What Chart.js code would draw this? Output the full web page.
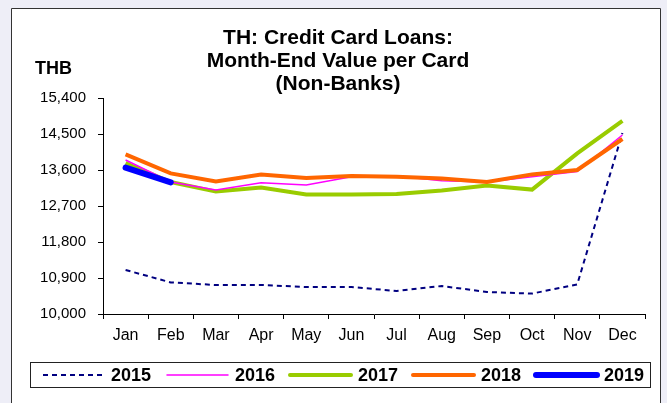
<!DOCTYPE html>
<html>
<head>
<meta charset="utf-8">
<script src="https://cdn.jsdelivr.net/npm/chart.js@4/dist/chart.umd.min.js"></script>
<style>
  html, body { margin: 0; padding: 0; background: #eeeef7; }
  #wrap { width: 667px; height: 403px; position: relative; }
</style>
</head>
<body>
<div id="wrap"><canvas id="chart" width="667" height="403"></canvas></div>
<script>
const months = ["Jan", "Feb", "Mar", "Apr", "May", "Jun", "Jul", "Aug", "Sep", "Oct", "Nov", "Dec"];
const y2015 = [11100, 10790, 10725, 10725, 10675, 10675, 10575, 10700, 10550, 10510, 10740, 14525];
const y2016 = [13850, 13300, 13100, 13280, 13225, 13430, 13450, 13330, 13300, 13430, 13560, 14475];
const y2017 = [13775, 13300, 13060, 13160, 12985, 12985, 13000, 13090, 13215, 13110, 14015, 14830];
const y2018 = [13990, 13515, 13315, 13485, 13400, 13450, 13430, 13385, 13300, 13490, 13600, 14375];
const y2019 = [13660, 13290];
const yTicks = [10000, 10900, 11800, 12700, 13600, 14500, 15400];
const titleLines = ["TH: Credit Card Loans:", "Month-End Value per Card", "(Non-Banks)"];

const FONT = "Arial, 'Liberation Sans'";

// background frame, title, unit label and boxed legend
const decor = {
    id: "decor",
    beforeDraw(chart) {
        const ctx = chart.ctx;
        ctx.save();
        ctx.fillStyle = "#eeeef7";
        ctx.fillRect(0, 0, chart.width, chart.height);
        ctx.fillStyle = "#ffffff";
        ctx.fillRect(11, 8, 650, 400);
        ctx.strokeStyle = "#333333";
        ctx.lineWidth = 1;
        ctx.beginPath();
        ctx.moveTo(11.5, 410);
        ctx.lineTo(11.5, 8.5);
        ctx.lineTo(660.5, 8.5);
        ctx.lineTo(660.5, 410);
        ctx.stroke();
        ctx.restore();
    },
    afterDraw(chart) {
        const ctx = chart.ctx;
        ctx.save();
        ctx.fillStyle = "#000";
        ctx.textAlign = "center";
        ctx.textBaseline = "middle";
        ctx.font = "bold 21px " + FONT;
        titleLines.forEach(function (t, i) {
            ctx.fillText(t, 338, 38 + i * 23);
        });
        ctx.textAlign = "left";
        ctx.font = "bold 18px " + FONT;
        ctx.fillText("THB", 35, 69);

        // legend
        ctx.strokeStyle = "#222";
        ctx.lineWidth = 1;
        ctx.strokeRect(30.5, 362.5, 620, 25);
        const xs = [43, 167, 290, 413, 536];
        ctx.font = "bold 18px " + FONT;
        chart.data.datasets.forEach(function (ds, i) {
            const x = xs[i];
            ctx.save();
            ctx.strokeStyle = ds.borderColor;
            ctx.lineWidth = ds.borderWidth;
            ctx.lineCap = ds.borderDash ? "butt" : "round";
            ctx.setLineDash(ds.borderDash || []);
            ctx.beginPath();
            ctx.moveTo(x, 375);
            ctx.lineTo(x + 61, 375);
            ctx.stroke();
            ctx.restore();
            ctx.fillStyle = "#000";
            ctx.fillText(ds.label, x + 68, 376);
        });
        ctx.restore();
    }
};

new Chart(document.getElementById("chart"), {
    type: "line",
    data: {
        labels: months,
        datasets: [
            { label: "2015", data: y2015, borderColor: "#000080", borderWidth: 2, borderDash: [5, 4], order: 5 },
            { label: "2016", data: y2016, borderColor: "#ff00ff", borderWidth: 1.5, order: 3 },
            { label: "2017", data: y2017, borderColor: "#99cc00", borderWidth: 4, order: 4 },
            { label: "2018", data: y2018, borderColor: "#ff6600", borderWidth: 4, order: 2 },
            { label: "2019", data: y2019, borderColor: "#0000ff", borderWidth: 6, borderCapStyle: "round", order: 1 }
        ]
    },
    options: {
        responsive: false,
        animation: false,
        elements: { point: { radius: 0 }, line: { tension: 0 } },
        layout: { padding: { left: 0, right: 22, top: 98, bottom: 59 } },
        plugins: { legend: { display: false }, title: { display: false }, tooltip: { enabled: false } },
        scales: {
            x: {
                offset: true,
                grid: { display: true, drawOnChartArea: false, offset: true, tickLength: 5, color: "#000" },
                border: { color: "#000", width: 1 },
                ticks: { color: "#000", font: { family: FONT, size: 16 }, padding: 7, maxRotation: 0 },
                afterFit: function (s) { s.height = 30; }
            },
            y: {
                min: 10000,
                max: 15400,
                afterBuildTicks: function (s) { s.ticks = yTicks.map(function (v) { return { value: v }; }); },
                grid: { display: true, drawOnChartArea: false, tickLength: 5, color: "#000" },
                border: { color: "#000", width: 1 },
                ticks: {
                    color: "#000",
                    font: { family: FONT, size: 15 },
                    padding: 12,
                    callback: function (v) { return v.toLocaleString("en-US"); }
                },
                afterFit: function (s) { s.width = 103; }
            }
        }
    },
    plugins: [decor]
});
</script>
</body>
</html>
